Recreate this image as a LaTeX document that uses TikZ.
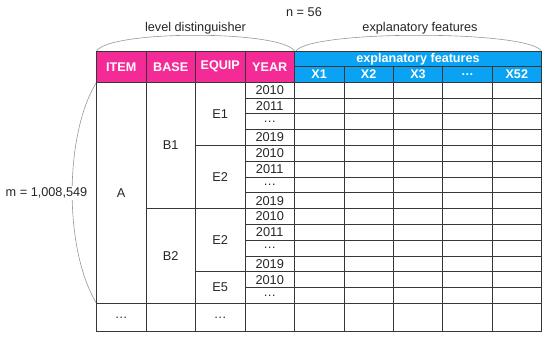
\documentclass[tikz,border=0pt]{standalone}
\usepackage{fontspec}
\setmainfont{Liberation Sans}
\usetikzlibrary{positioning}
\definecolor{hdrpink}{RGB}{244,42,150}
\definecolor{hdrblue}{RGB}{10,162,242}
\definecolor{gridgray}{RGB}{55,55,55}
\definecolor{bracegray}{RGB}{150,150,150}

\begin{document}
\begin{tikzpicture}[
  x=1pt, y=-1pt,
  cell/.style={font=\fontsize{12.8}{14}\selectfont, inner sep=0pt, text=black!85},
  hdr/.style={font=\fontsize{12.6}{14}\selectfont\bfseries, inner sep=0pt, text=white},
  lbl/.style={font=\fontsize{12.7}{14}\selectfont, fill=white, inner sep=1.5pt, text=black!85},
  grid/.style={draw=gridgray, line width=0.8pt},
  brace/.style={draw=bracegray, line width=0.6pt}
]
\useasboundingbox (0,0) rectangle (550,344);

% header fills
\fill[hdrpink] (96.5,51) rectangle (294.5,82.3);
\fill[hdrblue] (294.5,51) rectangle (541.5,82.3);

% braces round the table
\coordinate (lvlL) at (96.5,51);
\coordinate (lvlR) at (294.5,51);
\coordinate (expL) at (296,51);
\coordinate (expR) at (541.5,51);
\coordinate (rowT) at (96.5,82.3);
\coordinate (rowB) at (96.5,303.3);
\draw[brace] (lvlL) .. controls (110,30) and (281,30) .. (lvlR);
\draw[brace] (expL) .. controls (310,30) and (528,30) .. (expR);
\draw[brace] (rowT) .. controls (64,135) and (64,250) .. (rowB);
\node[lbl] (lvl) at (195.5,28) {level distinguisher};
\node[lbl] (exp) at (420,28) {explanatory features};
\node[lbl] (nfeat) at (304,12) {n = 56};
\node[lbl] (mrows) at (46.5,193) {m = 1,008,549};

% grid
\foreach \x in {96.5,146,195.5,245,294.5,541.5}
  \draw[grid] (\x,51) -- (\x,331.7);
\foreach \x in {343.9,393.3,442.7,492.1}
  \draw[grid] (\x,66.7) -- (\x,331.7);
\draw[grid] (96.5,51) -- (541.5,51);
\draw[grid] (294.5,66.7) -- (541.5,66.7);
\foreach \y in {82.3,303.3,331.7}
  \draw[grid] (96.5,\y) -- (541.5,\y);
\foreach \k in {1,...,13} {
  \pgfmathsetmacro{\yy}{82.3+15.786*\k}
  \draw[grid] (245,\yy) -- (541.5,\yy);
}
\foreach \k in {4,12}
  \draw[grid] (195.5,82.3+15.786*\k) -- (245,82.3+15.786*\k);
\draw[grid] (146,208.6) -- (245,208.6);

% header texts
\node[hdr] (item) at (121.25,66.7) {ITEM};
\node[hdr] (base) at (170.75,66.7) {BASE};
\node[hdr] (equip) at (220.25,66.7) {EQUIP};
\node[hdr] (year) at (269.75,66.7) {YEAR};
\node[hdr] (feat) at (418,59) {explanatory features};
\foreach \lab [count=\i] in {X1,X2,X3,\ldots,X52}
  \node[hdr] (x\i) at (319.2+49.4*\i-49.4,74.5) {\lab};

% level cells
\node[cell] (itemA) at (121.25,192.8) {A};
\node[cell] (baseB1) at (170.75,145.5) {B1};
\node[cell] (baseB2) at (170.75,256) {B2};
\node[cell] (equipE1) at (220.25,113.9) {E1};
\node[cell] (equipE2a) at (220.25,177.1) {E2};
\node[cell] (equipE2b) at (220.25,240.3) {E2};
\node[cell] (equipE5) at (220.25,287.5) {E5};
\foreach \yr [count=\k] in {2010,2011,\ldots,2019,2010,2011,\ldots,2019,2010,2011,\ldots,2019,2010,\ldots}
  \node[cell] (yr\k) at (269.75,82.3+15.786*\k-7.893) {\yr};
\node[cell] (itemMore) at (121.25,317.5) {\ldots};
\node[cell] (equipMore) at (220.25,317.5) {\ldots};
\end{tikzpicture}
\end{document}
